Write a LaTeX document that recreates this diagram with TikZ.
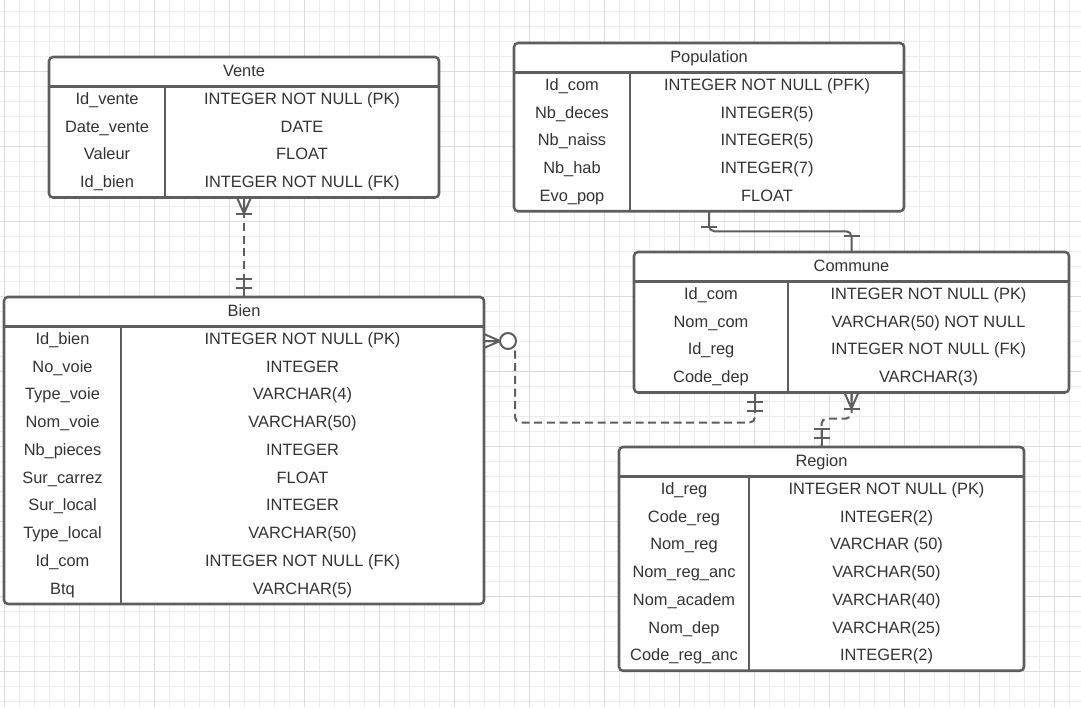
\documentclass[tikz,border=0pt]{standalone}
\usepackage{fontspec}
\setmainfont{Liberation Sans}
\usetikzlibrary{calc}
\definecolor{traitgris}{HTML}{5E5E5E}
\definecolor{textegris}{HTML}{333333}
\definecolor{grillemin}{HTML}{EDEDED}
\definecolor{grillemaj}{HTML}{DCDCDC}
\tikzset{
    grillefine/.style={draw=grillemin, line width=0.75pt},
    grilleforte/.style={draw=grillemaj, line width=0.75pt},
    cadre/.style={draw=traitgris, fill=white, line width=1.9pt, rounded corners=3pt,
        inner sep=0pt, outer sep=0pt, anchor=north west},
    separe/.style={draw=traitgris, line width=1.9pt},
    titre/.style={font=\fontsize{12.3}{14}\selectfont, text=textegris, anchor=base, inner sep=0pt},
    champ/.style={font=\fontsize{12.3}{14}\selectfont, text=textegris, anchor=base, inner sep=0pt},
    lien/.style={draw=traitgris, line width=1.5pt},
    lienpt/.style={lien, dash pattern=on 6pt off 3.5pt, rounded corners=4pt}
}
% table : nom, x gauche, y haut, largeur, largeur colonne cle, titre, lignes cle/type
\newcommand{\entite}[7]{
    \foreach \cle/\typ [count=\i] in {#7} {\xdef\nblig{\i}}
    \pgfmathsetmacro{\haut}{29.5 + 27.75*\nblig}
    \node[cadre, minimum width=#4*0.75pt, minimum height=\haut*0.75pt] (#1) at (#2, #3) {};
    \node[titre] (#1-titre) at ({#2 + #4/2}, {#3 + 19.5}) {#6};
    \draw[separe] (#2, #3 + 29.5) -- ++(#4, 0);
    \draw[separe] (#2 + #5, #3 + 29.5) -- ++(0, \haut - 29.5);
    \foreach \cle/\typ [count=\i] in {#7} {
        \node[champ] (#1-k\i) at ({#2 + #5/2}, {#3 + 29.5 + 27.75*\i - 9.8}) {\cle};
        \node[champ] (#1-t\i) at ({#2 + #5 + (#4 - #5)/2}, {#3 + 29.5 + 27.75*\i - 9.8}) {\typ};
    }
}
% extremites des liens : point, angle de sortie
\newcommand{\pattedoie}[2]{
    \begin{scope}[shift={(#1)}, rotate=#2]
        \draw[lien] (0, 7) -- (16, 0) -- (0, -7) (0, 0) -- (16, 0);
        \draw[lien] (16, -8) -- (16, 8);
    \end{scope}
}
\newcommand{\zeroplus}[2]{
    \begin{scope}[shift={(#1)}, rotate=#2]
        \draw[lien] (0, 7) -- (16, 0) -- (0, -7) (0, 0) -- (16, 0);
        \draw[lien, fill=white] (24, 0) circle (6pt);
    \end{scope}
}
\newcommand{\unseul}[2]{
    \begin{scope}[shift={(#1)}, rotate=#2]
        \draw[lien] (16, -8) -- (16, 8);
    \end{scope}
}
\newcommand{\unobli}[2]{
    \begin{scope}[shift={(#1)}, rotate=#2]
        \draw[lien] (0, 0) -- (18, 0);
        \draw[lien] (9, -8) -- (9, 8) (18, -8) -- (18, 8);
    \end{scope}
}

\begin{document}
\begin{tikzpicture}[x=0.75pt, y=-0.75pt]
    \useasboundingbox (0, 0) rectangle (1081, 707);
    \fill[white] (0, 0) rectangle (1081, 707);
    % grille
    \foreach \gx in {4, 19, ..., 1080} \draw[grillefine] (\gx, 0) -- (\gx, 707);
    \foreach \gy in {11, 26, ..., 706} \draw[grillefine] (0, \gy) -- (1081, \gy);
    \foreach \gx in {4, 79, ..., 1080} \draw[grilleforte] (\gx, 0) -- (\gx, 707);
    \foreach \gy in {71, 146, ..., 706} \draw[grilleforte] (0, \gy) -- (1081, \gy);

    % tables
    \entite{vente}{49}{57}{390}{116}{Vente}{
        Id\_vente/INTEGER NOT NULL (PK), Date\_vente/DATE, Valeur/FLOAT,
        Id\_bien/INTEGER NOT NULL (FK)}
    \entite{population}{514}{43}{390}{116}{Population}{
        Id\_com/INTEGER NOT NULL (PFK), Nb\_deces/INTEGER(5), Nb\_naiss/INTEGER(5),
        Nb\_hab/INTEGER(7), Evo\_pop/FLOAT}
    \entite{commune}{634}{252}{435}{154}{Commune}{
        Id\_com/INTEGER NOT NULL (PK), Nom\_com/VARCHAR(50) NOT NULL,
        Id\_reg/INTEGER NOT NULL (FK), Code\_dep/VARCHAR(3)}
    \entite{bien}{4}{297}{480}{117}{Bien}{
        Id\_bien/INTEGER NOT NULL (PK), No\_voie/INTEGER, Type\_voie/VARCHAR(4),
        Nom\_voie/VARCHAR(50), Nb\_pieces/INTEGER, Sur\_carrez/FLOAT,
        Sur\_local/INTEGER, Type\_local/VARCHAR(50), Id\_com/INTEGER NOT NULL (FK),
        Btq/VARCHAR(5)}
    \entite{region}{619}{447}{405}{130}{Region}{
        Id\_reg/INTEGER NOT NULL (PK), Code\_reg/INTEGER(2), Nom\_reg/VARCHAR (50),
        Nom\_reg\_anc/VARCHAR(50), Nom\_academ/VARCHAR(40), Nom\_dep/VARCHAR(25),
        Code\_reg\_anc/INTEGER(2)}

    % liens
    \draw[lienpt] (vente.south) -- (bien.north);
    \draw[lien, rounded corners=4pt] (population.south) -- ++(0, 20) -| (commune.north);
    \coordinate (bc-dep) at ($(bien.north east) + (0, 44)$);
    \coordinate (bc-fin) at ($(commune.south west) + (121, 0)$);
    \draw[lienpt] (bc-dep) -- ++(31, 0) |- ($(bc-fin) + (0, 30)$) -- (bc-fin);
    \draw[lienpt] (commune.south) -- ++(0, 26) -| (region.north);

    % extremites
    \pattedoie{vente.south}{-90}
    \unobli{bien.north}{90}
    \unseul{population.south}{-90}
    \unseul{commune.north}{90}
    \zeroplus{bc-dep}{0}
    \unobli{bc-fin}{-90}
    \pattedoie{commune.south}{-90}
    \unobli{region.north}{90}
\end{tikzpicture}
\end{document}
